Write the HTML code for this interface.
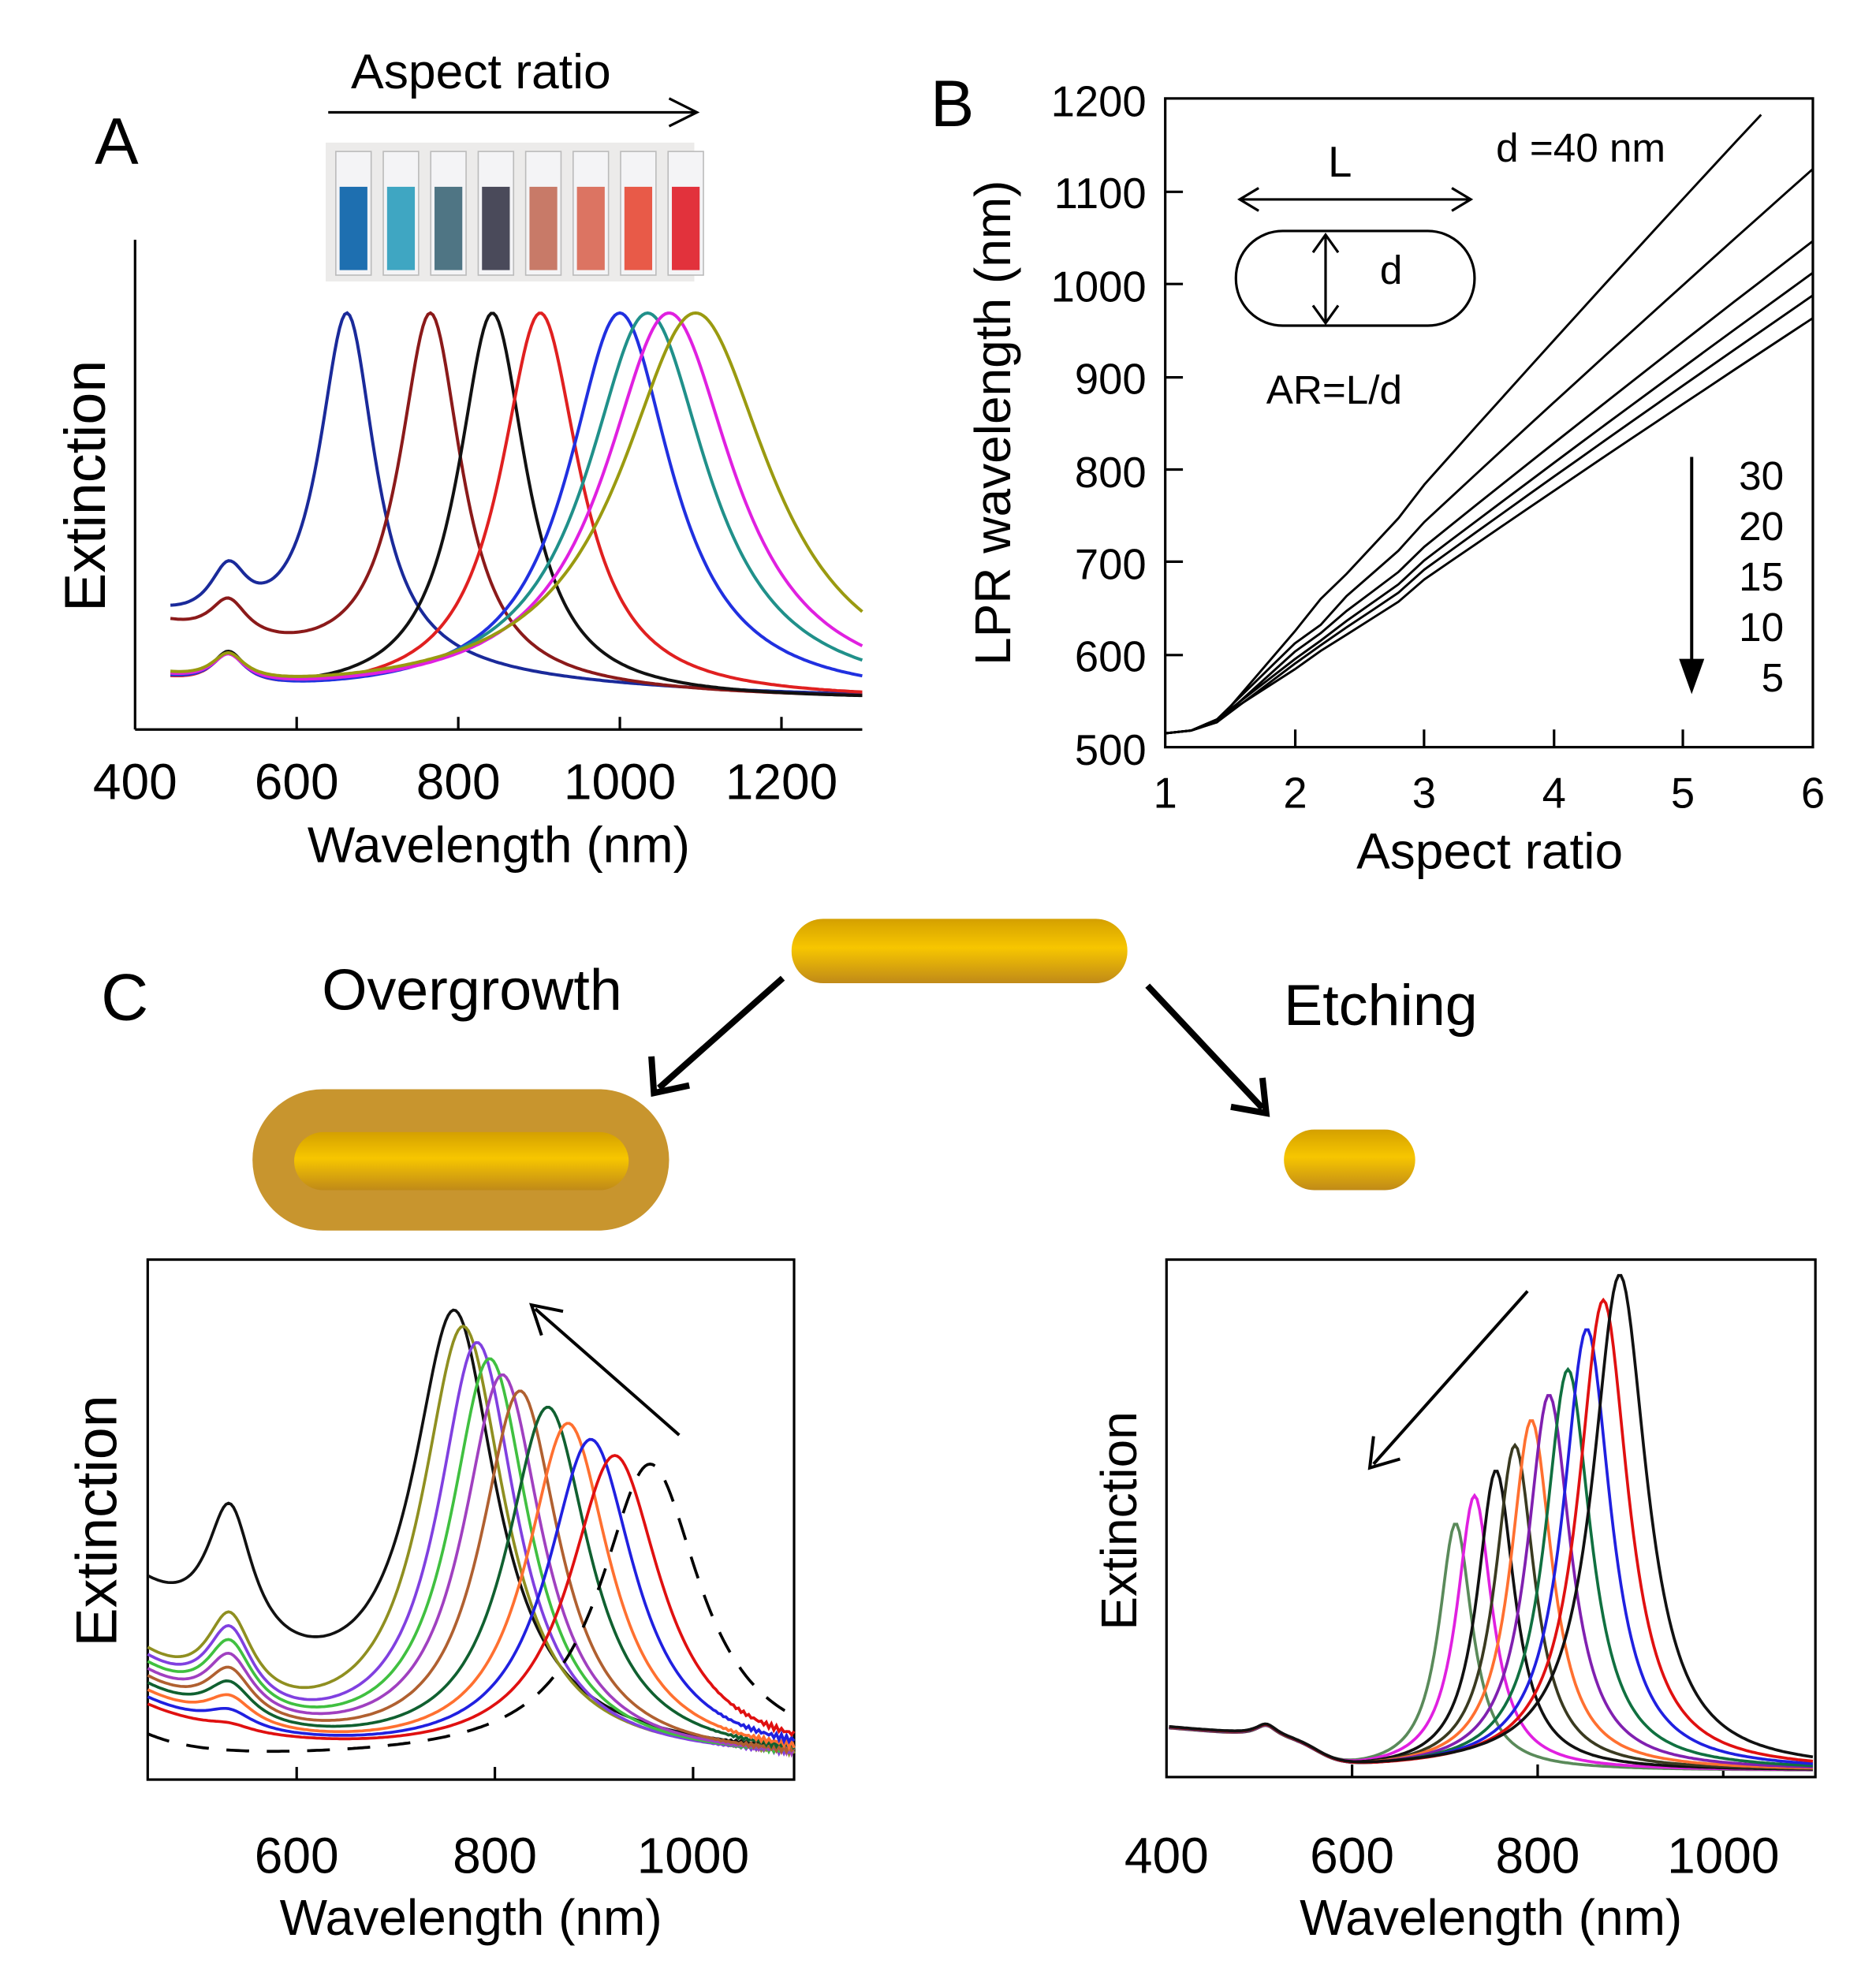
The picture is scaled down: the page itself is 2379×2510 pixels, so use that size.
<!DOCTYPE html>
<html><head><meta charset="utf-8"><style>
html,body{margin:0;padding:0;background:#fff}
svg{display:block}
text{font-family:"Liberation Sans",Arial,sans-serif;fill:#000}
</style></head><body>
<svg id="s" width="2379" height="2510" viewBox="0 0 1486 1568" preserveAspectRatio="none" xmlns="http://www.w3.org/2000/svg">
<defs>
<linearGradient id="gold" x1="0" y1="0" x2="0" y2="1">
<stop offset="0" stop-color="#d4a000"/><stop offset="0.45" stop-color="#f7c600"/><stop offset="1" stop-color="#c08a18"/>
</linearGradient>
</defs>
<rect width="1486" height="1568" fill="#fff"/>
<!-- Panel A -->
<text x="75" y="130" font-size="52">A</text>
<text x="278" y="70" font-size="39">Aspect ratio</text>
<line x1="260" y1="89" x2="550" y2="89" stroke="#000" stroke-width="2"/>
<path d="M530,78 L552,89 L530,100" fill="none" stroke="#000" stroke-width="2"/>
<rect x="258" y="113" width="292" height="110" fill="#ecebea"/>
<g id="cuv"></g>
<line x1="107" y1="190" x2="107" y2="578" stroke="#000" stroke-width="2"/>
<line x1="107" y1="578" x2="683" y2="578" stroke="#000" stroke-width="2"/>
<g stroke="#000" stroke-width="2"><line x1="235" y1="578" x2="235" y2="568"/><line x1="363" y1="578" x2="363" y2="568"/><line x1="491" y1="578" x2="491" y2="568"/><line x1="619" y1="578" x2="619" y2="568"/></g>
<g font-size="40" text-anchor="middle"><text x="107" y="633">400</text><text x="235" y="633">600</text><text x="363" y="633">800</text><text x="491" y="633">1000</text><text x="619" y="633">1200</text></g>
<text x="395" y="683" font-size="40" text-anchor="middle">Wavelength (nm)</text>
<text transform="translate(83,385) rotate(-90)" font-size="46" text-anchor="middle">Extinction</text>
<g id="ga" fill="none" stroke-width="2.5"></g>
<!-- Panel B -->
<text x="737" y="100" font-size="52">B</text>
<rect x="923" y="78" width="513" height="514" fill="none" stroke="#000" stroke-width="2"/>
<g id="bt" stroke="#000" stroke-width="2"></g>
<g font-size="34" text-anchor="end"><text x="908" y="92">1200</text><text x="908" y="165">1100</text><text x="908" y="239">1000</text><text x="908" y="312">900</text><text x="908" y="386">800</text><text x="908" y="459">700</text><text x="908" y="532">600</text><text x="908" y="606">500</text></g>
<g font-size="34" text-anchor="middle"><text x="923" y="640">1</text><text x="1026" y="640">2</text><text x="1128" y="640">3</text><text x="1231" y="640">4</text><text x="1333" y="640">5</text><text x="1436" y="640">6</text></g>
<text x="1180" y="688" font-size="40" text-anchor="middle">Aspect ratio</text>
<text transform="translate(800,335) rotate(-90)" font-size="40" text-anchor="middle">LPR wavelength (nm)</text>
<text x="1185" y="128" font-size="32">d =40 nm</text>
<text x="1052" y="140" font-size="34">L</text>
<line x1="982" y1="158" x2="1165" y2="158" stroke="#000" stroke-width="2"/>
<path d="M997,149 L982,158 L997,167 M1150,149 L1165,158 L1150,167" fill="none" stroke="#000" stroke-width="2"/>
<rect x="979" y="183" width="189" height="75" rx="37" fill="none" stroke="#000" stroke-width="2"/>
<line x1="1050" y1="186" x2="1050" y2="256" stroke="#000" stroke-width="2"/>
<path d="M1040,200 L1050,186 L1060,200 M1040,242 L1050,256 L1060,242" fill="none" stroke="#000" stroke-width="2"/>
<text x="1093" y="225" font-size="32">d</text>
<text x="1003" y="320" font-size="32">AR=L/d</text>
<line x1="1340" y1="362" x2="1340" y2="545" stroke="#000" stroke-width="2.5"/>
<path d="M1330,522 L1340,550 L1350,522 Z" fill="#000"/>
<g font-size="32" text-anchor="end"><text x="1413" y="388">30</text><text x="1413" y="428">20</text><text x="1413" y="468">15</text><text x="1413" y="508">10</text><text x="1413" y="548">5</text></g>
<g id="gb" fill="none" stroke="#000" stroke-width="1.8"></g>
<!-- Panel C -->
<text x="80" y="808" font-size="52">C</text>
<text x="255" y="800" font-size="46">Overgrowth</text>
<text x="1017" y="812" font-size="46">Etching</text>
<rect x="627" y="728" width="266" height="51" rx="25" fill="url(#gold)"/>
<rect x="200" y="863" width="330" height="112" rx="56" fill="#c8952e"/>
<rect x="233" y="897" width="265" height="46" rx="23" fill="url(#gold)"/>
<rect x="1017" y="895" width="104" height="48" rx="24" fill="url(#gold)"/>
<line x1="620" y1="775" x2="522" y2="862" stroke="#000" stroke-width="5"/>
<path d="M516,837 L518,866 L546,860" fill="none" stroke="#000" stroke-width="5"/>
<line x1="909" y1="781" x2="1000" y2="878" stroke="#000" stroke-width="5"/>
<path d="M975,877 L1003,882 L1000,854" fill="none" stroke="#000" stroke-width="5"/>
<rect x="117" y="998" width="512" height="412" fill="none" stroke="#000" stroke-width="2"/>
<g stroke="#000" stroke-width="2"><line x1="235" y1="1410" x2="235" y2="1400"/><line x1="392" y1="1410" x2="392" y2="1400"/><line x1="549" y1="1410" x2="549" y2="1400"/></g>
<g font-size="40" text-anchor="middle"><text x="235" y="1484">600</text><text x="392" y="1484">800</text><text x="549" y="1484">1000</text></g>
<text x="373" y="1533" font-size="40" text-anchor="middle">Wavelength (nm)</text>
<text transform="translate(92,1205) rotate(-90)" font-size="46" text-anchor="middle">Extinction</text>
<line x1="538" y1="1137" x2="424" y2="1037" stroke="#000" stroke-width="2.5"/>
<path d="M429,1058 L421,1034 L446,1039" fill="none" stroke="#000" stroke-width="2.5"/>
<g id="gc" fill="none" stroke-width="2.3"></g>
<rect x="924" y="998" width="514" height="410" fill="none" stroke="#000" stroke-width="2"/>
<g stroke="#000" stroke-width="2"><line x1="1071" y1="1408" x2="1071" y2="1398"/><line x1="1218" y1="1408" x2="1218" y2="1398"/><line x1="1365" y1="1408" x2="1365" y2="1398"/></g>
<g font-size="40" text-anchor="middle"><text x="924" y="1484">400</text><text x="1071" y="1484">600</text><text x="1218" y="1484">800</text><text x="1365" y="1484">1000</text></g>
<text x="1181" y="1533" font-size="40" text-anchor="middle">Wavelength (nm)</text>
<text transform="translate(900,1205) rotate(-90)" font-size="40" text-anchor="middle">Extinction</text>
<line x1="1210" y1="1023" x2="1088" y2="1160" stroke="#000" stroke-width="2.5"/>
<path d="M1088,1138 L1085,1163 L1109,1156" fill="none" stroke="#000" stroke-width="2.5"/>
<g id="gd" fill="none" stroke-width="2.3"></g>
</svg>
<script>
var NS="http://www.w3.org/2000/svg";
function L(x,x0,w){return w*w/((x-x0)*(x-x0)+w*w);}
function path(g,d,c,extra){var p=document.createElementNS(NS,"path");p.setAttribute("d",d);p.setAttribute("stroke",c);if(extra)for(var k in extra)p.setAttribute(k,extra[k]);document.getElementById(g).appendChild(p);}
function curve(x1,x2,f){var d="";for(var x=x1;x<=x2;x+=2){d+=(x==x1?"M":"L")+x+","+f(x).toFixed(1);}return d;}
var cc=["#1e6fb0","#3fa6c2","#4f7584","#4a4a5a","#c87a68","#dc7462","#e85a48","#e2323c"];
var g=document.getElementById("cuv");
for(var i=0;i<8;i++){var x=266+i*37.6;
g.innerHTML+='<rect x="'+x+'" y="120" width="28" height="98" fill="#f4f4f6" stroke="#bbb" stroke-width="1"/>'+
'<rect x="'+(x+3)+'" y="148" width="22" height="66" fill="'+cc[i]+'"/>';}
// Panel A
var A=[["#1a2a9a",275,27,42,60],["#8b1a1a",341,30,30,55],["#111",390,33,0,0],["#e02020",428,38,0,0],["#2030e0",491,50,0,0],["#20908a",513,58,0,0],["#e020e0",530,62,0,0],["#9a9a10",551,72,0,0]];
A.forEach(function(c,i){
 var extra=function(x){ if(i<2) return c[3]*L(x,181,18)+c[4]*Math.exp(-(x-135)/(i==0?200:160)); return (28-i)*L(x,181,16)+12*Math.exp(-(x-135)/60);};
 var amp=307-extra(c[1]);
 var f=function(x){return 555-amp*L(x,c[1],c[2])-extra(x);};
 path("ga",curve(135,683,f),c[0]);});
// Panel B
var bt=document.getElementById("bt");
[1026,1128,1231,1333].forEach(function(x){bt.innerHTML+='<line x1="'+x+'" y1="592" x2="'+x+'" y2="578"/>';});
[152,225,299,372,445,519].forEach(function(y){bt.innerHTML+='<line x1="923" y1="'+y+'" x2="937" y2="'+y+'"/>';});
function bx(a){return 923+(a-1)*102.6;} function by(v){return 592-(v-500)*0.734;}
var ends=[[5.6,1200,625],[6,1140,612],[6,1060,603],[6,1025,595],[6,1000,590],[6,975,584]];
ends.forEach(function(e,i){var pts=[[1,515],[1.2,518],[1.4,527+(i%2)*3],[2,e[2]],[2.2,e[2]+20+ (i==0?15:0)]];
 var s=(e[1]-e[2])/(e[0]-2);
 var d="";pts.forEach(function(p,k){d+=(k?"L":"M")+bx(p[0]).toFixed(1)+","+by(p[1]).toFixed(1);});
 for(var a=2.4;a<=e[0]+0.001;a+=0.2){d+="L"+bx(a).toFixed(1)+","+by(e[2]+s*(a-2)*(1-0.03*(a-2)/(e[0]-2))+ (a<3?-8*(a-2.2):0)).toFixed(1);}
 path("gb",d,"#000");});
// Panel C left
var C=[["#111",360,40],["#8f8f20",367,40],["#8040e0",378,38],["#40c040",388,38],["#a040c0",398,38],["#b06030",412,38],["#106030",434,40],["#ff7030",450,40],["#2020e0",468,42],["#e01010",487,44]];
C.forEach(function(c,i){
 var base=1395, H=base-(1038+i*12.8);
 var sH,pH,dec;
 if(i==0){sH=147;pH=205;dec=140;}else{var t=(i-1)/8;sH=90+(45-90)*t;pH=118+(30-118)*t;dec=90;}
 var m117=H*L(117,c[1],c[2]), m182=H*L(182,c[1],c[2]);
 var a=sH-m117, b=pH-m182, e=Math.exp(-65/dec);
 var ta=(b-e*a)/(1-0.1*e); if(ta<4)ta=4; var bg=a-0.1*ta; if(bg<0)bg=0;
 var ex=function(x){return ta*L(x,182,22)+bg*Math.exp(-(x-117)/dec);};
 var H2=H-ex(c[1]);
 var f=function(x){
 var y=base-H2*L(x,c[1],c[2])-ex(x);
 if(x>560) y+=Math.sin(x*1.7+i)*3*(x-560)/70;
 return y;};
 path("gc",curve(117,629,f),c[0]);});
path("gc",curve(117,629,function(x){return 1395-235*L(x,515,48)-18*Math.exp(-(x-117)/40);}),"#000",{"stroke-dasharray":"18,14"});
// Panel C right
var D=[["#5a8a5a",1153,16],["#e020e0",1168,17],["#111",1185,18],["#3a3a20",1200,19],["#ff7030",1213,20],["#8020b0",1227,21],["#107040",1242,22],["#2020e0",1257,23],["#e01010",1270,24],["#111",1283,26]];
var tops=[1207,1185,1165,1145,1125,1105,1085,1053,1030,1010];
D.forEach(function(c,i){var f=function(x){var y=1403-(1403-tops[i])*L(x,c[1],c[2])-9*L(x,1003,10)-(33-12*(x-924)/120)/(1+Math.exp((x-1045)/10));
 return y;};
 path("gd",curve(926,1436,f),c[0]);});
</script>
</body></html>
